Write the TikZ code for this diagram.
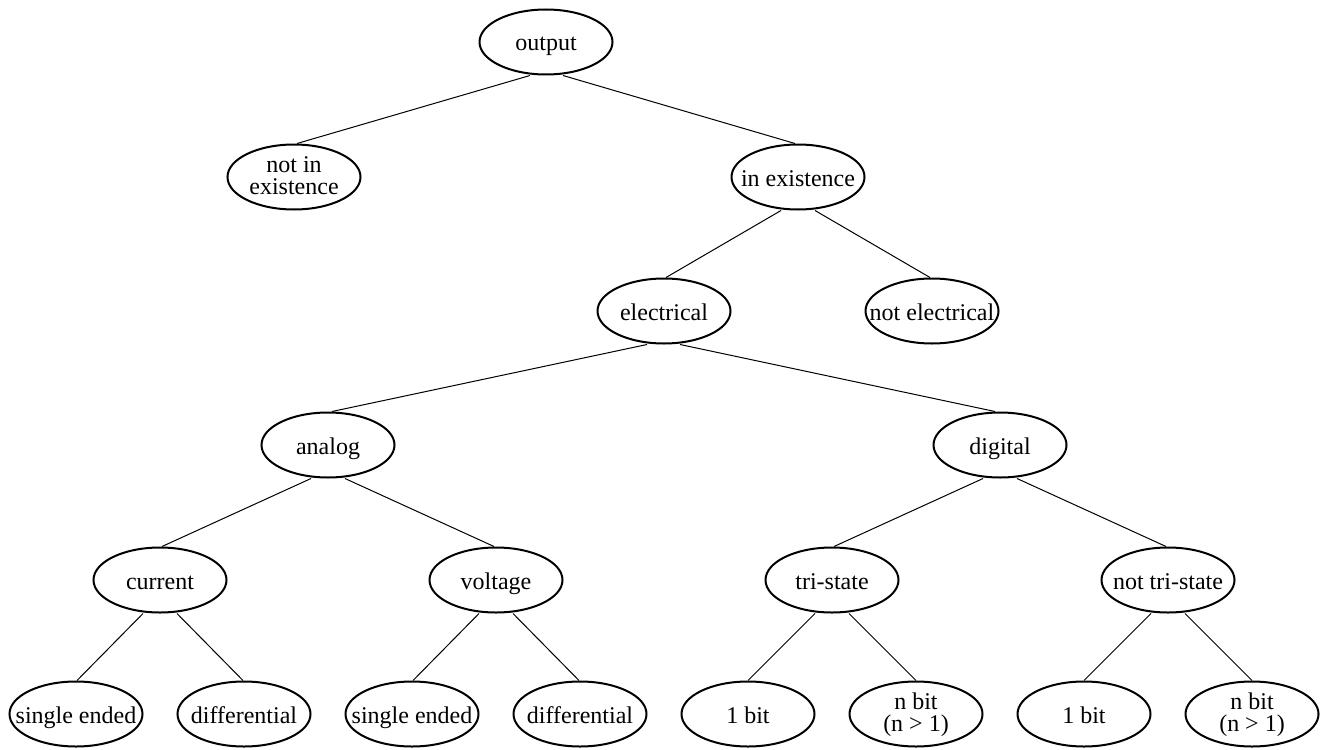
\documentclass[tikz,border=0pt]{standalone}
\usepackage{fontspec}
\setmainfont{Liberation Serif}
\usetikzlibrary{shapes.geometric}

% labels are set in zero-size boxes so every ellipse keeps the same size
\newcommand\onel[1]{\makebox[0pt]{\smash{\raisebox{-9pt}{#1}}}}
\newcommand\twol[2]{\makebox[0pt]{\smash{\raisebox{4.5pt}{#1}}}\makebox[0pt]{\smash{\raisebox{-17.8pt}{#2}}}}

\begin{document}
\begin{tikzpicture}[x=1pt, y=-1pt,
  ell/.style={draw, ellipse, line width=2pt, minimum width=133pt,
    minimum height=65pt, inner sep=0pt,
    font=\fontsize{24pt}{26pt}\selectfont},
  lk/.style={line width=1pt}]
\useasboundingbox (0,0) rectangle (1329,749);
\fill[white] (0,0) rectangle (1329,749);

% level 0
\node[ell] (out)  at (546,42)  {\onel{output}};
% level 1
\node[ell] (nie)  at (294,177) {\twol{not in}{existence}};
\node[ell] (ie)   at (798,177) {\onel{in existence}};
% level 2
\node[ell] (el)   at (664,311) {\onel{electrical}};
\node[ell] (nel)  at (932,311) {\onel{not electrical}};
% level 3
\node[ell] (an)   at (328,445) {\onel{analog}};
\node[ell] (dg)   at (1000,445) {\onel{digital}};
% level 4
\node[ell] (cur)  at (160,580) {\onel{current}};
\node[ell] (vol)  at (496,580) {\onel{voltage}};
\node[ell] (tri)  at (832,580) {\onel{tri-state}};
\node[ell] (ntri) at (1168,580) {\onel{not tri-state}};
% leaves
\node[ell] (cse)  at (76,714)   {\onel{single ended}};
\node[ell] (cdf)  at (244,714)  {\onel{differential}};
\node[ell] (vse)  at (412,714)  {\onel{single ended}};
\node[ell] (vdf)  at (580,714)  {\onel{differential}};
\node[ell] (tone) at (748,714)  {\onel{1 bit}};
\node[ell] (tn)   at (916,714)  {\twol{n bit}{(n > 1)}};
\node[ell] (none) at (1084,714) {\onel{1 bit}};
\node[ell] (nn)   at (1252,714) {\twol{n bit}{(n > 1)}};

% connectors
\draw[lk] ([xshift=-16pt]out.south) -- ([xshift=3pt]nie.north);
\draw[lk] ([xshift=17pt]out.south)  -- ([xshift=-3pt]ie.north);
\draw[lk] ([xshift=-17pt]ie.south)  -- ([xshift=2pt]el.north);
\draw[lk] ([xshift=17pt]ie.south)   -- ([xshift=-2pt]nel.north);
\draw[lk] ([xshift=-17pt]el.south)  -- ([xshift=4pt]an.north);
\draw[lk] ([xshift=16pt]el.south)   -- ([xshift=-5pt]dg.north);
\draw[lk] ([xshift=-17pt]an.south)  -- ([xshift=2pt]cur.north);
\draw[lk] ([xshift=17pt]an.south)   -- ([xshift=-2pt]vol.north);
\draw[lk] ([xshift=-17pt]dg.south)  -- ([xshift=2pt]tri.north);
\draw[lk] ([xshift=17pt]dg.south)   -- ([xshift=-2pt]ntri.north);
\draw[lk] ([xshift=-17pt]cur.south) -- ([xshift=1pt]cse.north);
\draw[lk] ([xshift=17pt]cur.south)  -- ([xshift=-1pt]cdf.north);
\draw[lk] ([xshift=-17pt]vol.south) -- ([xshift=1pt]vse.north);
\draw[lk] ([xshift=17pt]vol.south)  -- ([xshift=-1pt]vdf.north);
\draw[lk] ([xshift=-17pt]tri.south) -- (tone.north);
\draw[lk] ([xshift=17pt]tri.south)  -- (tn.north);
\draw[lk] ([xshift=-17pt]ntri.south) -- (none.north);
\draw[lk] ([xshift=17pt]ntri.south)  -- (nn.north);
\end{tikzpicture}
\end{document}
